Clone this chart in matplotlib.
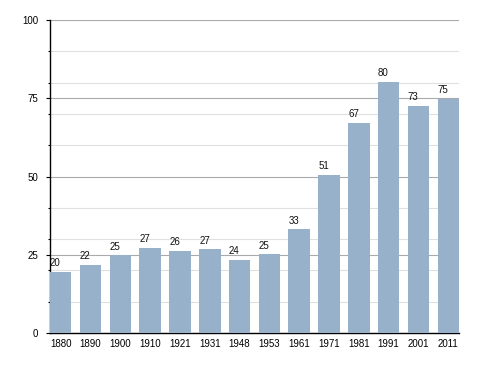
import matplotlib
matplotlib.use("Agg")
import matplotlib.pyplot as plt
import numpy as np

plt.rcParams['font.family'] = ['Liberation Sans', 'DejaVu Sans']

years = ["1880", "1890", "1900", "1910", "1921", "1931", "1948", "1953",
         "1961", "1971", "1981", "1991", "2001", "2011"]
# bar heights, labels as printed above them
heights = [19.6, 21.8, 24.9, 27.2, 26.2, 26.8, 23.4, 25.2,
           33.2, 50.6, 67.1, 80.2, 72.6, 74.9]
labels = [20, 22, 25, 27, 26, 27, 24, 25, 33, 51, 67, 80, 73, 75]


def main():
    fig = plt.figure(figsize=(4.88, 3.73), dpi=100)
    ax = fig.add_axes([0.1025, 0.1072, 0.8381, 0.8392])

    width = 0.72
    x = np.arange(len(years))
    ax.bar(x, heights, width=width, color="#97b1cb", zorder=3)
    # value labels sit left-aligned with the bar edge
    for xi, h, lab in zip(x, heights, labels):
        ax.annotate(str(lab), (xi - width / 2, h), xytext=(0, 4),
                    textcoords="offset points", ha="left", va="baseline",
                    fontsize=7, color="#111111", zorder=4)

    ax.set_xlim(-width / 2, len(years) - 1 + width / 2)
    ax.set_ylim(0, 100)
    ax.set_xticks(x)
    ax.set_xticklabels(years, fontsize=7)
    ax.set_yticks([0, 25, 50, 75, 100])
    ax.set_yticks([10, 20, 30, 40, 60, 70, 80, 90], minor=True)
    ax.tick_params(axis="y", which="major", length=3, width=0.8,
                   labelsize=7, pad=5.5)
    ax.tick_params(axis="y", which="minor", length=1.5, width=0.8)
    ax.tick_params(axis="x", length=0, pad=4)

    ax.grid(axis="y", which="major", color="#aaaaaa", linewidth=0.8, zorder=1)
    ax.grid(axis="y", which="minor", color="#e0e0e0", linewidth=0.8, zorder=1)

    for side in ["top", "right"]:
        ax.spines[side].set_visible(False)
    ax.spines["left"].set_linewidth(1.0)
    ax.spines["bottom"].set_linewidth(1.0)

    fig.savefig("out.png", dpi=100)


if __name__ == "__main__":
    main()
